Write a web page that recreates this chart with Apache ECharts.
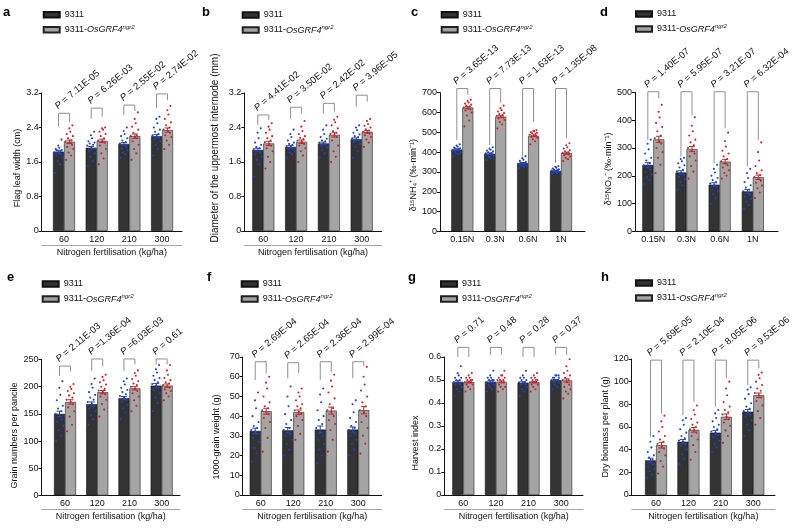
<!DOCTYPE html>
<html>
<head>
<meta charset="utf-8">
<script src="https://cdn.jsdelivr.net/npm/echarts@6/dist/echarts.min.js"></script>
<style>
html, body { margin: 0; padding: 0; background: #fff; }
#main { width: 800px; height: 531px; }
</style>
</head>
<body>
<div id="main"></div>
<script>
// categories
var fertLevels = ['60', '120', '210', '300'];
var nLevels = ['0.15N', '0.3N', '0.6N', '1N'];

// a - flag leaf width
var aBar9311 = [1.84, 1.93, 2.02, 2.20];
var aBarGRF4 = [2.07, 2.09, 2.20, 2.34];
var aSem = [[0.03, 0.04], [0.03, 0.04], [0.03, 0.05], [0.04, 0.05]];
var aPts9311 = [
	[1.35,1.55,1.62,1.70,1.75,1.78,1.80,1.82,1.85,1.87,1.88,1.90,1.93,1.98,2.12],
	[1.50,1.62,1.72,1.80,1.85,1.90,1.95,1.98,2.00,2.03,2.05,2.08,2.15,2.22,2.30],
	[1.70,1.78,1.82,1.88,1.92,1.96,2.00,2.03,2.06,2.10,2.15,2.20,2.25,2.32,2.40],
	[1.75,1.90,2.00,2.08,2.12,2.16,2.20,2.22,2.25,2.30,2.35,2.40,2.50,2.60,2.65]];
var aPtsGRF4 = [
	[1.65,1.75,1.82,1.90,1.95,2.00,2.05,2.08,2.10,2.15,2.20,2.25,2.30,2.38,2.45],
	[1.55,1.68,1.80,1.90,1.98,2.05,2.08,2.10,2.15,2.20,2.25,2.30,2.35,2.38,2.40],
	[1.65,1.80,1.90,2.00,2.08,2.15,2.18,2.20,2.22,2.28,2.35,2.42,2.50,2.60,2.75],
	[1.90,2.00,2.10,2.18,2.22,2.28,2.32,2.35,2.40,2.45,2.52,2.60,2.70,2.80,2.90]];
var aBrackets = [[2.43, 2.73, 2.53], [2.60, 2.85, 2.65], [2.69, 2.92, 2.78], [2.85, 3.18, 3.04]];
var aP = [' = 7.11E-05', ' = 6.26E-03', ' = 2.55E-02', ' = 2.74E-02'];

// b - diameter of the uppermost internode
var bBar9311 = [1.88, 1.95, 2.03, 2.13];
var bBarGRF4 = [2.03, 2.07, 2.23, 2.30];
var bSem = [[0.04, 0.05], [0.03, 0.04], [0.03, 0.05], [0.03, 0.03]];
var bPts9311 = [
	[1.25,1.55,1.65,1.72,1.78,1.82,1.86,1.90,1.92,1.95,2.00,2.05,2.15,2.28,2.38],
	[1.70,1.78,1.82,1.86,1.90,1.92,1.95,1.97,2.00,2.02,2.05,2.10,2.18,2.25,2.35],
	[1.70,1.80,1.88,1.94,1.98,2.00,2.03,2.05,2.08,2.10,2.14,2.18,2.25,2.35,2.45],
	[1.70,1.85,1.95,2.02,2.06,2.10,2.12,2.15,2.18,2.20,2.24,2.28,2.34,2.40,2.45]];
var bPtsGRF4 = [
	[1.45,1.60,1.72,1.85,1.92,1.98,2.02,2.06,2.10,2.15,2.20,2.28,2.35,2.42,2.50],
	[1.60,1.75,1.85,1.92,1.98,2.02,2.06,2.10,2.13,2.16,2.20,2.25,2.32,2.42,2.55],
	[1.60,1.72,1.85,1.98,2.10,2.18,2.22,2.25,2.28,2.32,2.38,2.45,2.52,2.58,2.65],
	[1.95,2.05,2.12,2.18,2.22,2.26,2.28,2.30,2.33,2.36,2.40,2.44,2.48,2.55,2.60]];
var bBrackets = [[2.46, 2.69, 2.57], [2.61, 2.87, 2.73], [2.73, 2.96, 2.77], [2.88, 3.15, 3.00]];
var bP = [' = 4.41E-02', ' = 3.50E-02', ' = 2.42E-02', ' = 3.96E-05'];

// c - 15NH4+ uptake
var cBar9311 = [413, 392, 345, 306];
var cBarGRF4 = [625, 579, 482, 395];
var cSem = [[4, 6], [4, 5], [3, 4], [2, 5]];
var cPts9311 = [
	[380,390,395,400,404,408,410,412,415,418,420,424,428,434,440],
	[360,370,376,382,386,390,392,394,396,400,404,408,412,418,425],
	[320,326,330,334,336,338,340,342,344,346,350,356,362,370,380],
	[290,295,298,300,302,304,306,308,310,312,314,318,322,326,330]];
var cPtsGRF4 = [
	[530,560,585,600,610,615,620,625,630,635,640,645,650,658,665],
	[520,540,552,562,570,575,580,584,588,592,598,605,612,622,635],
	[440,455,465,472,478,482,485,488,492,495,498,502,505,508,512],
	[355,365,372,378,384,388,392,396,400,405,410,418,425,435,445]];
var cBrackets = [[462, 721, 689], [437, 721, 647], [378, 721, 554], [345, 721, 471]];
var cP = [' = 3.65E-13', ' = 7.73E-13', ' = 1.63E-13', ' = 1.35E-08'];

// d - 15NO3- uptake
var dBar9311 = [239, 212, 168, 144];
var dBarGRF4 = [331, 296, 251, 195];
var dSem = [[8, 11], [6, 9], [7, 8], [7, 8]];
var dPts9311 = [
	[170,185,195,205,215,222,230,238,245,255,265,280,295,315,330],
	[150,165,178,188,196,204,210,216,222,230,238,245,252,260,265],
	[100,120,135,145,152,160,166,172,178,185,192,200,212,225,240],
	[80,95,108,118,125,132,138,144,150,158,166,178,192,210,225]];
var dPtsGRF4 = [
	[210,240,265,285,300,315,325,335,345,360,375,390,410,430,455],
	[190,215,235,255,270,280,290,300,310,320,330,345,360,380,410],
	[190,200,210,220,230,238,245,252,260,270,280,290,305,325,355],
	[120,140,155,165,175,182,190,196,202,210,220,235,255,285,320]];
var dBrackets = [[329, 502, 478], [269, 502, 418], [245, 502, 371], [233, 502, 329]];
var dP = [' = 1.40E-07', ' = 5.95E-07', ' = 3.21E-07', ' = 6.32E-04'];

// e - grain numbers per panicle
var eBar9311 = [150, 168, 179, 202];
var eBarGRF4 = [172, 190, 197, 202];
var eSem = [[5, 4], [4, 3], [3, 3], [4, 3]];
var ePts9311 = [
	[100,110,120,128,135,140,145,150,155,160,165,175,185,198,210],
	[130,140,148,155,160,164,168,172,176,180,185,190,198,205,215],
	[140,152,160,166,172,176,180,183,186,190,194,198,204,210,215],
	[155,170,180,188,194,198,202,205,208,212,216,220,226,232,240]];
var ePtsGRF4 = [
	[118,130,145,155,162,168,172,176,180,184,188,192,196,200,205],
	[145,158,168,176,182,186,190,193,196,200,204,208,212,218,222],
	[155,165,175,182,188,192,196,200,203,206,210,214,220,225,230],
	[175,182,188,192,195,198,200,203,206,208,212,216,222,230,240]];
var eBrackets = [[220, 238, 228], [229, 251, 238], [229, 251, 241], [241, 251, 241]];
var eP = [' = 2.11E-03', ' =1.36E-04', ' =6.03E-03', ' = 0.61'];

// f - 1000-grain weight
var fBar9311 = [32.5, 32.8, 33.2, 33.2];
var fBarGRF4 = [42.5, 42.0, 42.8, 43.0];
var fSem = [[1.4, 1.5], [1.4, 1.1], [1.8, 1.8], [1.3, 1.8]];
var fPts9311 = [
	[17,21,24,27,29,31,32,33,34,35,37,40,44,48,52],
	[20,23,26,28,30,31,32,33,34,36,38,41,45,50,55],
	[16,20,23,26,28,30,32,34,36,38,40,43,47,51,54],
	[20,23,26,28,30,31,32,33,34,35,37,39,42,46,48]];
var fPtsGRF4 = [
	[22,29,34,37,39,41,42,43,44,45,47,50,54,57,60],
	[28,31,35,38,40,41,42,43,44,45,46,48,50,52,54],
	[22,28,33,36,38,40,42,43,44,46,49,52,55,58,61],
	[21,26,30,34,37,40,42,43,45,47,50,53,56,60,65]];
var fBrackets = [[58.3, 67.6, 61.7], [59.2, 67.1, 61.7], [58.3, 67.6, 62.5], [59.2, 67.6, 65.4]];
var fP = [' = 2.69E-04', ' = 2.65E-04', ' = 2.36E-04', ' = 2.99E-04'];

// g - harvest index
var gBar9311 = [0.492, 0.493, 0.488, 0.499];
var gBarGRF4 = [0.491, 0.492, 0.490, 0.498];
var gSem = [[0.005, 0.004], [0.004, 0.004], [0.004, 0.003], [0.003, 0.007]];
var gPts9311 = [
	[0.43,0.45,0.46,0.47,0.48,0.48,0.49,0.49,0.50,0.50,0.51,0.51,0.52,0.53,0.56],
	[0.45,0.46,0.47,0.48,0.48,0.49,0.49,0.49,0.50,0.50,0.50,0.51,0.51,0.52,0.54],
	[0.43,0.45,0.46,0.47,0.48,0.48,0.49,0.49,0.49,0.50,0.50,0.51,0.51,0.52,0.54],
	[0.46,0.47,0.48,0.49,0.49,0.50,0.50,0.50,0.50,0.51,0.51,0.51,0.52,0.52,0.52]];
var gPtsGRF4 = [
	[0.45,0.46,0.47,0.48,0.48,0.49,0.49,0.49,0.50,0.50,0.50,0.51,0.51,0.52,0.53],
	[0.45,0.46,0.47,0.47,0.48,0.49,0.49,0.50,0.50,0.50,0.51,0.51,0.52,0.52,0.54],
	[0.45,0.46,0.47,0.48,0.48,0.49,0.49,0.49,0.50,0.50,0.50,0.51,0.51,0.52,0.53],
	[0.42,0.44,0.45,0.46,0.47,0.48,0.49,0.50,0.50,0.51,0.52,0.53,0.54,0.56,0.59]];
var gBrackets = [[0.600, 0.642, 0.600], [0.609, 0.642, 0.609], [0.600, 0.642, 0.600], [0.609, 0.642, 0.609]];
var gP = [' = 0.71', ' = 0.48', ' = 0.28', ' = 0.37'];

// h - dry biomass per plant
var hBar9311 = [30.5, 47, 55, 73.5];
var hBarGRF4 = [44, 57.5, 69, 88];
var hSem = [[2, 2.5], [2, 2], [2, 2.5], [2, 2]];
var hPts9311 = [
	[15,18,21,23,25,27,29,30,31,33,35,38,42,47,52],
	[27,32,36,40,43,45,47,48,50,52,55,58,62,66,68],
	[38,42,45,48,51,53,55,56,58,60,62,65,68,72,75],
	[52,57,62,66,69,71,73,74,76,78,81,85,89,93,95]];
var hPtsGRF4 = [
	[19,25,30,35,38,41,43,45,47,49,52,56,60,65,70],
	[31,38,44,49,52,55,57,58,60,62,64,67,71,75,79],
	[46,52,57,61,64,67,69,71,73,75,78,82,88,94,100],
	[62,68,74,79,83,86,88,90,92,94,97,100,103,106,108]];
var hBrackets = [[51.5, 119, 72], [70.6, 119, 82.3], [77.9, 119, 103], [97, 119, 111.8]];
var hP = [' = 5.69E-05', ' = 2.10E-04', ' = 8.05E-06', ' = 9.53E-06'];

var FONT = '"Liberation Sans", Arial, sans-serif';
var GRF = '9311-OsGRF4ngr2';
var BAR_W = 11;
var BLUE = '#2343b8';
var RED = '#c0272d';
// horizontal spread of the dots inside a bar, -1..1
var jitter = [-0.8, 0.35, -0.2, 0.9, -0.55, 0.6, 0.05, -0.95, 0.45, -0.35, 0.8, -0.65, 0.2, -0.05, 0.7];

var panels = [
	{ letter: 'a', cats: fertLevels, yName: 'Flag leaf width (cm)', yMax: 3.2, yStep: 0.8,
		m1: aBar9311, m2: aBarGRF4, p1: aPts9311, p2: aPtsGRF4, sem: aSem, br: aBrackets, pv: aP,
		box: [41.7, 93, 182, 231], xr: [-0.682, 3.61], nameGap: 20, namePad: [0, 12, 0, 0], nameSize: 9,
		legend: [42.7, 10.3], pos: [3, 6], fert: true },
	{ letter: 'b', cats: fertLevels, yName: 'Diameter of the uppermost internode (mm)', yMax: 3.2, yStep: 0.8,
		m1: bBar9311, m2: bBarGRF4, p1: bPts9311, p2: bPtsGRF4, sem: bSem, br: bBrackets, pv: bP,
		box: [244.3, 93, 381.7, 231], xr: [-0.579, 3.61], nameGap: 24, namePad: [0, 0, 0, 28], nameSize: 10,
		legend: [241.7, 10.5], pos: [202, 6], fert: true },
	{ letter: 'c', cats: nLevels, yName: 'δ¹⁵NH₄⁺ (‰·min⁻¹)', yMax: 700, yStep: 100,
		m1: cBar9311, m2: cBarGRF4, p1: cPts9311, p2: cPtsGRF4, sem: cSem, br: cBrackets, pv: cP,
		box: [440, 92.7, 585, 231.5], xr: [-0.678, 3.73], nameGap: 16, namePad: [0, 26, 0, 0], nameSize: 9,
		legend: [440.7, 10.2], pos: [411, 6], fert: false },
	{ letter: 'd', cats: nLevels, yName: 'δ¹⁵NO₃⁻ (‰·min⁻¹)', yMax: 500, yStep: 100,
		m1: dBar9311, m2: dBarGRF4, p1: dPts9311, p2: dPtsGRF4, sem: dSem, br: dBrackets, pv: dP,
		box: [635, 92.3, 778, 231.5], xr: [-0.553, 3.76], nameGap: 21, namePad: [0, 14, 0, 0], nameSize: 9,
		legend: [635, 9.5], pos: [600, 6], fert: false },
	{ letter: 'e', cats: fertLevels, yName: 'Grain numbers per pancile', yMax: 250, yStep: 50,
		m1: eBar9311, m2: eBarGRF4, p1: ePts9311, p2: ePtsGRF4, sem: eSem, br: eBrackets, pv: eP,
		box: [41.5, 359.5, 180, 495.5], xr: [-0.73, 3.57], nameGap: 22, namePad: [0, 16, 0, 0], nameSize: 9,
		legend: [41.7, 279.5], pos: [7, 271], fert: true },
	{ letter: 'f', cats: fertLevels, yName: '1000-grain weight (g)', yMax: 70, yStep: 10,
		m1: fBar9311, m2: fBarGRF4, p1: fPts9311, p2: fPtsGRF4, sem: fSem, br: fBrackets, pv: fP,
		box: [242.7, 357, 381.7, 495], xr: [-0.554, 3.72], nameGap: 22, namePad: [0, 22, 0, 0], nameSize: 9,
		legend: [240.7, 279.5], pos: [207, 271], fert: true },
	{ letter: 'g', cats: fertLevels, yName: 'Harvest index', yMax: 0.6, yStep: 0.1,
		m1: gBar9311, m2: gBarGRF4, p1: gPts9311, p2: gPtsGRF4, sem: gSem, br: gBrackets, pv: gP,
		box: [444.3, 357, 583, 495], xr: [-0.583, 3.67], nameGap: 24, namePad: [0, 34, 0, 0], nameSize: 9,
		legend: [440, 279.5], pos: [408, 271], fert: true },
	{ letter: 'h', cats: fertLevels, yName: 'Dry biomass per plant (g)', yMax: 120, yStep: 20,
		m1: hBar9311, m2: hBarGRF4, p1: hPts9311, p2: hPtsGRF4, sem: hSem, br: hBrackets, pv: hP,
		box: [631.7, 359, 775, 495], xr: [-0.75, 3.67], nameGap: 19, namePad: [0, 0, 0, 0], nameSize: 9,
		legend: [635, 278.5], pos: [601, 271], fert: true }
];

function dotRender(params, api) {
	var side = api.value(2);
	var p = api.coord([api.value(0), api.value(1)]);
	var x = p[0] + (side ? BAR_W / 2 : -BAR_W / 2) + jitter[api.value(3)] * 4.2;
	return {
		type: 'circle',
		shape: { cx: x, cy: p[1], r: 1.05 },
		style: { fill: side ? RED : BLUE }
	};
}

function errRender(params, api) {
	var side = api.value(3);
	var m = api.value(1), s = api.value(2);
	var hi = api.coord([api.value(0), m + s]);
	var lo = api.coord([api.value(0), m - s]);
	var x = hi[0] + (side ? BAR_W / 2 : -BAR_W / 2);
	var st = { stroke: side ? RED : BLUE, lineWidth: 1 };
	return {
		type: 'group',
		children: [
			{ type: 'line', shape: { x1: x, y1: hi[1], x2: x, y2: lo[1] }, style: st },
			{ type: 'line', shape: { x1: x - 3, y1: hi[1], x2: x + 3, y2: hi[1] }, style: st },
			{ type: 'line', shape: { x1: x - 3, y1: lo[1], x2: x + 3, y2: lo[1] }, style: st }
		]
	};
}

function bracketRender(pv) {
	return function (params, api) {
		var c = api.value(0);
		var xc = api.coord([c, 0])[0];
		var xl = xc - BAR_W / 2, xr = xc + BAR_W / 2;
		var yl = api.coord([c, api.value(1)])[1];
		var yt = api.coord([c, api.value(2)])[1];
		var yr = api.coord([c, api.value(3)])[1];
		return {
			type: 'group',
			children: [
				{ type: 'polyline', shape: { points: [[xl, yl], [xl, yt], [xr, yt], [xr, yr]] },
					style: { stroke: '#8f8f8f', lineWidth: 1, fill: null } },
				{ type: 'text', x: xl + 1, y: yt - 2, rotation: 40 * Math.PI / 180,
					style: {
						text: '{i|P}{t|' + pv[params.dataIndex] + '}',
						align: 'left', verticalAlign: 'bottom',
						rich: {
							i: { fontStyle: 'italic', fontSize: 9.5, fontFamily: FONT, fill: '#111' },
							t: { fontSize: 9.5, fontFamily: FONT, fill: '#111' }
						}
					} }
			]
		};
	};
}

var grids = [], xAxes = [], yAxes = [], series = [], legends = [], titles = [];

panels.forEach(function (p, k) {
	var L = p.box[0], T = p.box[1], R = p.box[2], B = p.box[3];
	grids.push({ left: L, top: T, width: R - L, height: B - T, containLabel: false, outerBoundsMode: 'none' });
	xAxes.push({
		gridIndex: k, type: 'value', min: p.xr[0], max: p.xr[1],
		axisLine: { show: true, onZero: false, lineStyle: { color: '#111', width: 1 } },
		axisTick: { show: false }, splitLine: { show: false },
		axisLabel: {
			customValues: [0, 1, 2, 3],
			formatter: function (v) { return p.cats[Math.round(v)]; },
			fontSize: 9, color: '#111', margin: 4, fontFamily: FONT
		}
	});
	xAxes.push({
		gridIndex: k, type: 'value', min: p.xr[0], max: p.xr[1], show: p.fert,
		position: 'bottom', offset: 14,
		axisLine: { show: true, onZero: false, lineStyle: { color: '#a6a6a6', width: 1 } },
		axisTick: { show: false }, axisLabel: { show: false }, splitLine: { show: false },
		name: 'Nitrogen fertilisation (kg/ha)', nameLocation: 'middle', nameGap: 3,
		nameTextStyle: { fontSize: 9, color: '#111', fontFamily: FONT }
	});
	yAxes.push({
		gridIndex: k, type: 'value', min: 0, max: p.yMax, interval: p.yStep,
		axisLine: { show: true, onZero: false, lineStyle: { color: '#111', width: 1 } },
		axisTick: { show: true, length: 3, lineStyle: { color: '#111' } },
		axisLabel: { fontSize: 9, color: '#111', margin: 3, fontFamily: FONT },
		splitLine: { show: false },
		name: p.yName, nameLocation: 'middle', nameGap: p.nameGap,
		nameTextStyle: { fontSize: p.nameSize, color: '#111', padding: p.namePad, fontFamily: FONT }
	});

	var dots = [], errs = [], brs = [];
	for (var i = 0; i < 4; i++) {
		p.p1[i].forEach(function (v, j) { dots.push([i, v, 0, j]); });
		p.p2[i].forEach(function (v, j) { dots.push([i, v, 1, j]); });
		errs.push([i, p.m1[i], p.sem[i][0], 0]);
		errs.push([i, p.m2[i], p.sem[i][1], 1]);
		brs.push([i, p.br[i][0], p.br[i][1], p.br[i][2]]);
	}

	series.push({
		type: 'bar', name: '9311', xAxisIndex: 2 * k, yAxisIndex: k,
		data: p.m1.map(function (v, i) { return [i, v]; }),
		barWidth: BAR_W, barGap: '0%', z: 2, silent: true,
		itemStyle: { color: '#333333', borderColor: '#111', borderWidth: 0.6 }
	});
	series.push({
		type: 'bar', name: GRF, xAxisIndex: 2 * k, yAxisIndex: k,
		data: p.m2.map(function (v, i) { return [i, v]; }),
		barWidth: BAR_W, barGap: '0%', z: 2, silent: true,
		itemStyle: { color: '#a4a4a4', borderColor: '#222', borderWidth: 0.6 }
	});
	series.push({
		type: 'custom', xAxisIndex: 2 * k, yAxisIndex: k, z: 4, silent: true,
		data: dots, renderItem: dotRender
	});
	series.push({
		type: 'custom', xAxisIndex: 2 * k, yAxisIndex: k, z: 5, silent: true,
		data: errs, renderItem: errRender
	});
	series.push({
		type: 'custom', xAxisIndex: 2 * k, yAxisIndex: k, z: 5, silent: true,
		data: brs, renderItem: bracketRender(p.pv)
	});

	legends.push({
		left: p.legend[0], top: p.legend[1], orient: 'vertical', padding: 0,
		itemWidth: 16, itemHeight: 5.5, itemGap: 5, icon: 'rect', selectedMode: false,
		data: ['9311', GRF],
		formatter: function (name) {
			return name === '9311' ? '{n|9311}' : '{n|9311-}{i|OsGRF4}{s|ngr2}';
		},
		textStyle: {
			fontSize: 9, color: '#111', fontFamily: FONT,
			rich: {
				n: { fontSize: 9, lineHeight: 11, fontFamily: FONT, color: '#111' },
				i: { fontSize: 9, lineHeight: 11, fontStyle: 'italic', fontFamily: FONT, color: '#111' },
				s: { fontSize: 6, lineHeight: 6, verticalAlign: 'top', fontStyle: 'italic', fontFamily: FONT, color: '#111' }
			}
		}
	});
	titles.push({
		text: p.letter, left: p.pos[0], top: p.pos[1], padding: 0,
		textStyle: { fontSize: 13, fontWeight: 'bold', color: '#000', fontFamily: FONT }
	});
});

var chart = echarts.init(document.getElementById('main'), null, { renderer: 'canvas' });
chart.setOption({
	backgroundColor: '#fff',
	animation: false,
	title: titles,
	legend: legends,
	grid: grids,
	xAxis: xAxes,
	yAxis: yAxes,
	series: series
});
</script>
</body>
</html>
